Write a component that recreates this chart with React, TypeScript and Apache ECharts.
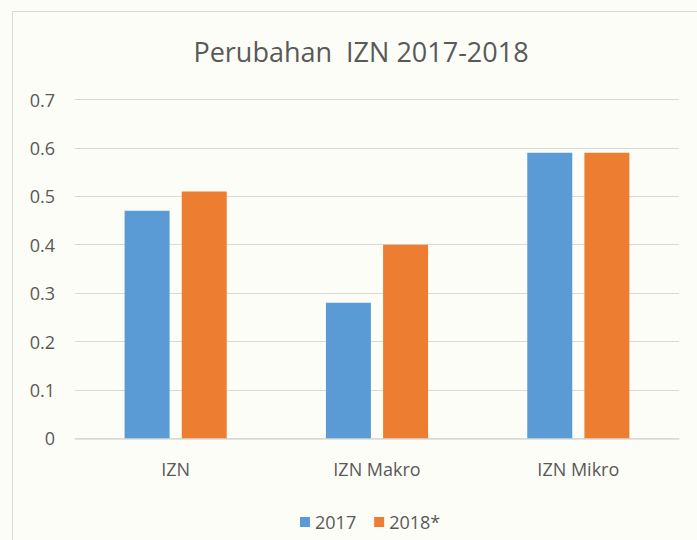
import React, { useEffect, useRef } from "react";
import * as echarts from "echarts";

const categories = ["IZN", "IZN Makro", "IZN Mikro"];
const series2017 = [0.47, 0.28, 0.59];
const series2018 = [0.51, 0.4, 0.59];
const seriesNames = ["2017", "2018*"];
const titleText = "Perubahan  IZN 2017-2018";

export default function App() {
  const ref = useRef<HTMLDivElement>(null);
  useEffect(() => {
    if (!ref.current) return;
    const chart = echarts.init(ref.current, null, { renderer: "svg" });
    const font = "'Open Sans', sans-serif";
    chart.setOption({
      animation: false,
      backgroundColor: "#FDFDF8",
      textStyle: { fontFamily: font },
      graphic: [
        {
          type: "rect",
          shape: { x: 12.5, y: 11.5, width: 720, height: 600 },
          style: { fill: "none", stroke: "#D9D9D4", lineWidth: 1 },
          silent: true,
        },
      ],
      title: {
        text: titleText,
        left: 356,
        textAlign: "center",
        top: 33,
        textStyle: { fontFamily: font, fontSize: 27, fontWeight: "normal", color: "#595959" },
      },
      legend: {
        data: seriesNames,
        left: 295,
        top: 508,
        itemWidth: 10,
        itemHeight: 10,
        itemGap: 18,
        icon: "rect",
        textStyle: { fontFamily: font, fontSize: 18, color: "#595959" },
      },
      grid: { left: 75, right: 18, top: 99.5, bottom: 101.7, containLabel: false },
      xAxis: {
        type: "category",
        data: categories,
        axisLine: { lineStyle: { color: "#D9D9D9", width: 1.5 } },
        axisTick: { show: false },
        axisLabel: { fontFamily: font, fontSize: 18, color: "#595959", margin: 22 },
      },
      yAxis: {
        type: "value",
        min: 0,
        max: 0.7,
        interval: 0.1,
        axisLine: { show: false },
        axisTick: { show: false },
        splitLine: { lineStyle: { color: "#D9D9D9", width: 1 } },
        axisLabel: {
          fontFamily: font,
          fontSize: 18,
          color: "#595959",
          margin: 20,
          formatter: (v: number) => (v === 0 ? "0" : String(Math.round(v * 10) / 10)),
        },
      },
      series: [
        {
          name: seriesNames[0],
          type: "bar",
          data: series2017,
          barWidth: 45,
          barGap: "27%",
          itemStyle: { color: "#5B9BD5" },
        },
        {
          name: seriesNames[1],
          type: "bar",
          data: series2018,
          barWidth: 45,
          itemStyle: { color: "#ED7D31" },
        },
      ],
    });
    return () => chart.dispose();
  }, []);
  return (
    <div
      ref={ref}
      style={{ position: "fixed", left: 0, top: 0, width: 697, height: 540 }}
    />
  );
}
